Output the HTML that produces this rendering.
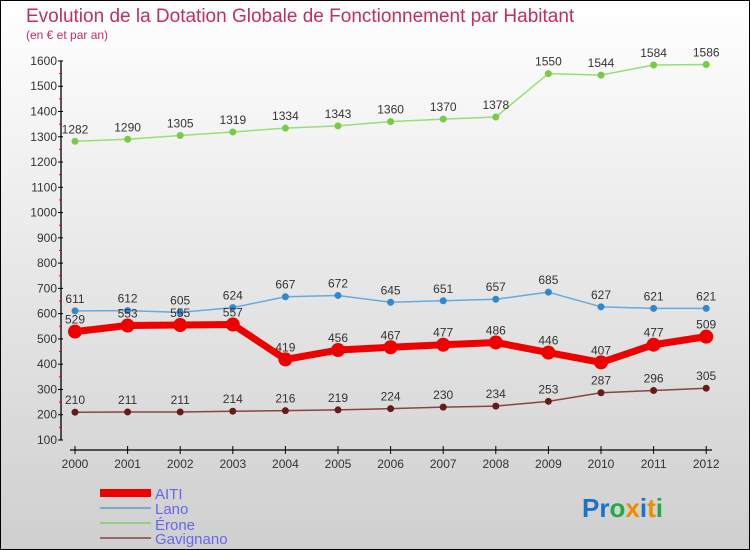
<!DOCTYPE html>
<html><head><meta charset="utf-8"><style>
body{margin:0}
#c{width:750px;height:550px;position:relative;box-sizing:border-box;border:1px solid #000;background:linear-gradient(#ffffff,#cfcfcf);font-family:"Liberation Sans",sans-serif;overflow:hidden}
</style></head><body>
<div id="c">
<svg id="s" width="750" height="550" style="position:absolute;left:-1px;top:-1px">
<text x="26" y="22" font-size="19" fill="#c0305a">Evolution de la Dotation Globale de Fonctionnement par Habitant</text>
<text x="26" y="39" font-size="12" fill="#c0305a">(en € et par an)</text>
<g id="g"></g>
<g>
<rect x="100" y="489" width="51" height="8" fill="#ee0000"/>
<rect x="100" y="507" width="51" height="2" fill="#7aaacc"/>
<rect x="100" y="522" width="51" height="2" fill="#99cc88"/>
<rect x="100" y="537" width="51" height="2" fill="#996666"/>
<text x="155" y="499" font-size="15" fill="#6666ee">AITI</text>
<text x="155" y="514" font-size="15" fill="#6666ee">Lano</text>
<text x="155" y="530" font-size="15" fill="#6666ee">Érone</text>
<text x="155" y="544" font-size="15" fill="#6666ee">Gavignano</text>
</g>
<text x="582" y="517" font-size="26" font-weight="bold"><tspan fill="#1a73c8">Pr</tspan><tspan fill="#22aa44">o</tspan><tspan fill="#f08a00">x</tspan><tspan fill="#1a73c8">i</tspan><tspan fill="#f08a00">t</tspan><tspan fill="#22aa44">i</tspan></text>
</svg>
</div>
<script>
const years=[2000,2001,2002,2003,2004,2005,2006,2007,2008,2009,2010,2011,2012];
const yTicks=[100,200,300,400,500,600,700,800,900,1000,1100,1200,1300,1400,1500,1600];
const aiti=[529,553,555,557,419,456,467,477,486,446,407,477,509];
const lano=[611,612,605,624,667,672,645,651,657,685,627,621,621];
const erone=[1282,1290,1305,1319,1334,1343,1360,1370,1378,1550,1544,1584,1586];
const gavignano=[210,211,211,214,216,219,224,230,234,253,287,296,305];
const NS='http://www.w3.org/2000/svg';
const g=document.getElementById('g');
const X=i=>75+i*52.6;
const Y=v=>440-(v-100)*0.2527;
function mk(t,a,p){const e=document.createElementNS(NS,t);for(const k in a)e.setAttribute(k,a[k]);(p||g).appendChild(e);return e;}
let ax=mk('line',{x1:61,y1:Y(1600),x2:61,y2:Y(100),stroke:'#000','stroke-width':1.3});


yTicks.forEach(v=>{
 mk('line',{x1:58,y1:Y(v),x2:63,y2:Y(v),stroke:'#000'});
 if(v<1600)mk('line',{x1:59,y1:Y(v+50),x2:62,y2:Y(v+50),stroke:'#e00'});
 const t=mk('text',{x:57,y:Y(v)+4,'font-size':12,fill:'#333','text-anchor':'end'});
 t.textContent=v;
 
 
});
let xa=mk('line',{x1:70,y1:450,x2:712,y2:450,stroke:'#000','stroke-width':1.3});


years.forEach((y,i)=>{
 mk('line',{x1:X(i),y1:446,x2:X(i),y2:454,stroke:'#000'});
 const t=mk('text',{x:X(i),y:468,'font-size':12,fill:'#333','text-anchor':'middle'});
 t.textContent=y;
 
 
});
function series(d,name,col,w,r,dot){
 const s=mk('g',{});
 
 
 mk('polyline',{points:d.map((v,i)=>X(i)+','+Y(v)).join(' '),fill:'none',stroke:col,'stroke-width':w,'stroke-linejoin':'round'},s);
 d.forEach((v,i)=>{
  const c=mk('circle',{cx:X(i),cy:Y(v),r:r,fill:dot},s);
  
  
  const t=mk('text',{x:X(i),y:Y(v)-8,'font-size':12,fill:'#333','text-anchor':'middle'},s);
  t.textContent=v;
  
  
 });
}
series(erone,'erone','#99dd77',1.5,3.5,'#77cc44');
series(lano,'lano','#66aadd',1.5,3.5,'#3388cc');
series(gavignano,'gavignano','#884444',1.5,3.5,'#661a1a');
series(aiti,'aiti','#ee0000',7,7,'#ee0000');
</script>
</body></html>
